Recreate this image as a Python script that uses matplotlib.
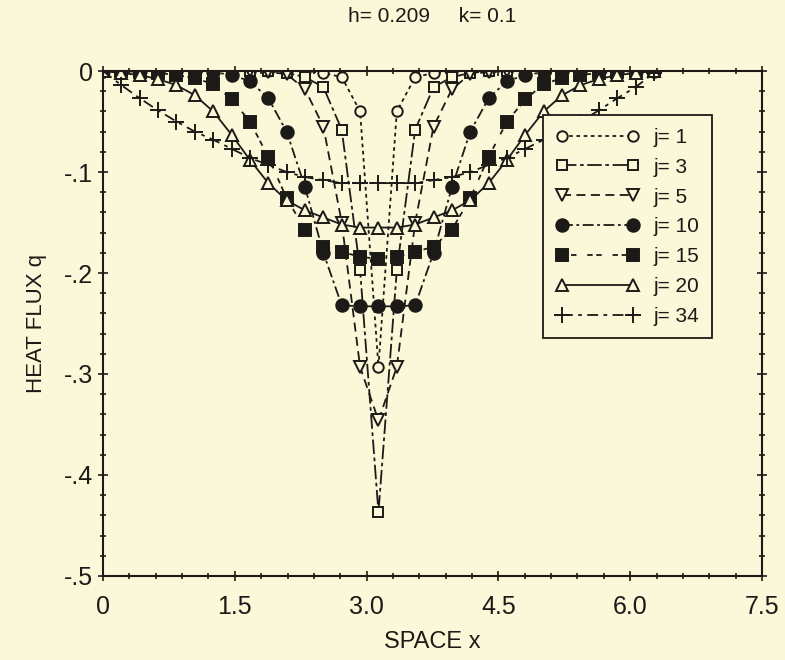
import numpy as np
import matplotlib as mpl
import matplotlib.pyplot as plt
from matplotlib.ticker import MultipleLocator, FuncFormatter

plt.rcParams['font.family'] = ['Liberation Sans', 'DejaVu Sans']

# Spatial grid: h = 0.209, nodes i = 0..30
h = 0.209
x = np.arange(31) * h

# Heat flux q at time levels j
q_j1 = [0, 0, 0, 0, 0, 0, 0, 0, 0, 0, 0, 0, -0.002, -0.006, -0.04, -0.293,
        -0.04, -0.006, -0.002, 0, 0, 0, 0, 0, 0, 0, 0, 0, 0, 0, 0]
q_j3 = [0, 0, 0, 0, 0, 0, 0, 0, 0, 0, -0.002, -0.006, -0.016, -0.058, -0.197, -0.437,
        -0.197, -0.058, -0.016, -0.006, -0.002, 0, 0, 0, 0, 0, 0, 0, 0, 0, 0]
q_j5 = [0, 0, 0, 0, 0, 0, 0, 0, 0, -0.001, -0.003, -0.018, -0.055, -0.15, -0.293, -0.346,
        -0.293, -0.15, -0.055, -0.018, -0.003, -0.001, 0, 0, 0, 0, 0, 0, 0, 0, 0]
q_j10 = [0, 0, 0, 0, 0, 0, -0.001, -0.004, -0.01, -0.027, -0.06, -0.115, -0.18, -0.232, -0.233, -0.233,
         -0.233, -0.232, -0.18, -0.115, -0.06, -0.027, -0.01, -0.004, -0.001, 0, 0, 0, 0, 0, 0]
q_j15 = [0, 0, -0.001, -0.002, -0.004, -0.007, -0.013, -0.028, -0.05, -0.085, -0.126, -0.157, -0.174, -0.179, -0.184, -0.186,
         -0.184, -0.179, -0.174, -0.157, -0.126, -0.085, -0.05, -0.028, -0.013, -0.007, -0.004, -0.002, -0.001, 0, 0]
q_j20 = [0, -0.002, -0.004, -0.008, -0.014, -0.024, -0.04, -0.063, -0.088, -0.111, -0.128, -0.138, -0.145, -0.152, -0.155, -0.155,
         -0.155, -0.152, -0.145, -0.138, -0.128, -0.111, -0.088, -0.063, -0.04, -0.024, -0.014, -0.008, -0.004, -0.002, 0]
q_j34 = [0, -0.014, -0.027, -0.039, -0.05, -0.06, -0.068, -0.077, -0.086, -0.093, -0.1, -0.105, -0.108, -0.111, -0.111, -0.111,
         -0.111, -0.111, -0.108, -0.105, -0.1, -0.093, -0.086, -0.077, -0.068, -0.06, -0.05, -0.039, -0.027, -0.016, -0.002]

labels = ["j= 1", "j= 3", "j= 5", "j= 10", "j= 15", "j= 20", "j= 34"]

paper = '#fbf7d9'
ink = '#1c1a16'

fig = plt.figure(figsize=(7.85, 6.6), dpi=100, facecolor=paper)
ax = fig.add_axes([0.1312, 0.1273, 0.8395, 0.7651], facecolor=paper)

styles = [
    dict(marker='o', ls=(0, (2, 2)), mfc=paper, ms=7.5),
    dict(marker='s', ls=(0, (8, 2, 2, 2)), mfc=paper, ms=7.5),
    dict(marker='v', ls=(0, (5, 3)), mfc=paper, ms=8),
    dict(marker='o', ls=(0, (6, 2, 1.5, 2)), mfc=ink, ms=9),
    dict(marker='s', ls=(0, (3, 2, 3, 6)), mfc=ink, ms=9),
    dict(marker='^', ls='-', mfc=paper, ms=8),
    dict(marker='+', ls=(0, (6, 3, 2, 3)), mfc=ink, ms=11),
]
series = [q_j1, q_j3, q_j5, q_j10, q_j15, q_j20, q_j34]

for q, st, lab in zip(series, styles, labels):
    ax.plot(x, q, color=ink, lw=1.3, mec=ink, mew=1.4, label=lab,
            marker=st['marker'], ls=st['ls'], mfc=st['mfc'], ms=st['ms'])

ax.set_xlim(0, 7.5)
ax.set_ylim(-0.5, 0)
ax.xaxis.set_major_locator(MultipleLocator(1.5))
ax.xaxis.set_minor_locator(MultipleLocator(0.3))
ax.yaxis.set_major_locator(MultipleLocator(0.1))
ax.yaxis.set_minor_locator(MultipleLocator(0.02))
ax.xaxis.set_major_formatter(FuncFormatter(lambda v, p: '0' if abs(v) < 1e-9 else f'{v:.1f}'))
ax.yaxis.set_major_formatter(FuncFormatter(lambda v, p: '0' if abs(v) < 1e-9 else f'{v:.1f}'.replace('0.', '.')))
ax.tick_params(which='both', direction='inout', top=True, right=True, colors=ink, labelsize=18, width=1.2)
ax.tick_params(which='major', length=7)
ax.tick_params(which='minor', length=4)
ax.tick_params(axis='x', pad=10)
for s in ax.spines.values():
    s.set_color(ink)
    s.set_linewidth(1.5)

ax.set_xlabel("SPACE x", fontsize=17, color=ink, labelpad=9)
ax.set_ylabel("HEAT FLUX q", fontsize=16, color=ink, labelpad=12)
ax.set_title("h= 0.209     k= 0.1", fontsize=15, color=ink, pad=35)

leg = ax.legend(loc='upper left', bbox_to_anchor=(0.668, 0.912), numpoints=2, handlelength=4.0,
                fontsize=15, frameon=True, fancybox=False, borderpad=0.6, labelspacing=0.52,
                handletextpad=0.7, borderaxespad=0, facecolor=paper, framealpha=1)
leg.get_frame().set_edgecolor(ink)
leg.get_frame().set_linewidth(1.3)
for t in leg.get_texts():
    t.set_color(ink)

fig.savefig("out.png", dpi=100, facecolor=paper)
